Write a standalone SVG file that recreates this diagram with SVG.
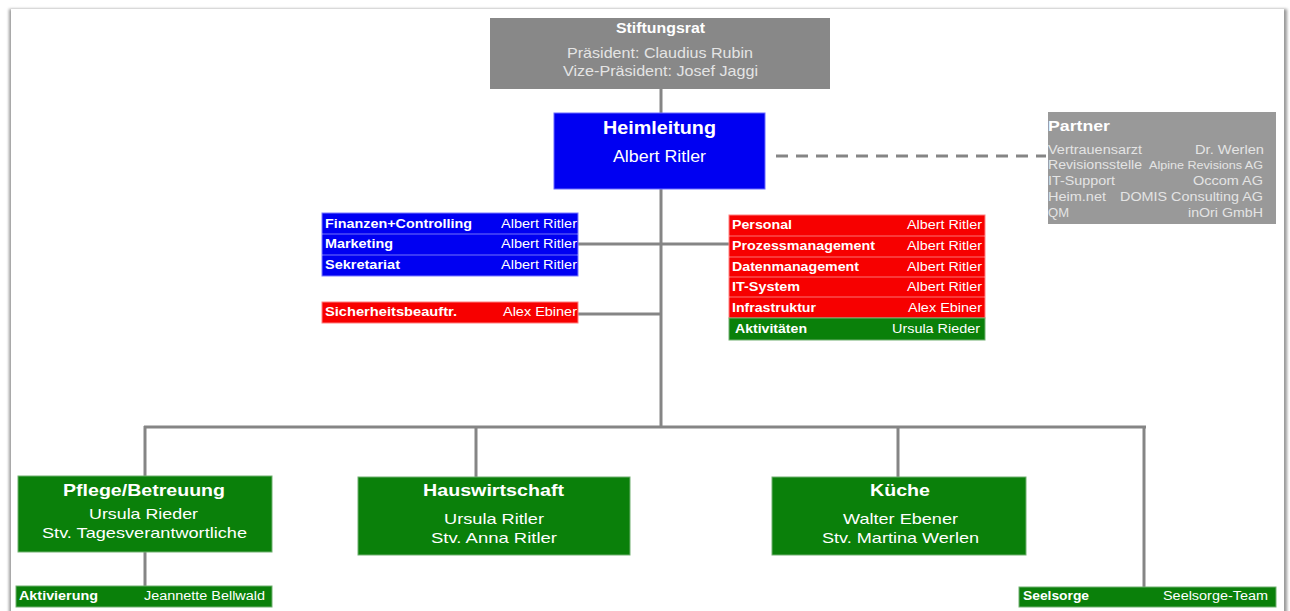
<svg xmlns="http://www.w3.org/2000/svg" width="1290" height="611" viewBox="0 0 1290 611">
<defs>
<filter id="sh" x="-5%" y="-5%" width="110%" height="110%">
<feGaussianBlur stdDeviation="1.5"/>
</filter>
<style>
text{font-family:"Liberation Sans",Arial,sans-serif;fill:#fff}
.b{font-weight:bold}
.t12{font-size:12.5px}
.p12{font-size:12px}
.big{font-size:18px;font-weight:bold}
.mid{font-size:15px}
.ttl{font-size:16.5px;font-weight:bold}
.blue{fill:#0000f2}
.red{fill:#f70000}
.green{fill:#0a800a}
.sep{stroke:#ffffff;stroke-opacity:0.45;stroke-width:1}
.con{stroke:#858585;stroke-width:3;fill:none}
.lt{fill:#e4e4e4}
</style>
</defs>
<rect width="1290" height="611" fill="#fff"/>
<rect x="9" y="9" width="1278" height="612" fill="#9a9a9a" filter="url(#sh)"/>
<rect x="11" y="9" width="1273" height="612" fill="#fff"/>

<g id="connectors">
<line class="con" x1="661" y1="89" x2="661" y2="114"/>
<line class="con" x1="661" y1="188" x2="661" y2="428"/>
<line class="con" x1="578" y1="244" x2="729" y2="244"/>
<line class="con" x1="578" y1="314" x2="661" y2="314"/>
<line class="con" x1="144" y1="427" x2="1146" y2="427"/>
<line class="con" x1="145" y1="426" x2="145" y2="476"/>
<line class="con" x1="476" y1="426" x2="476" y2="477"/>
<line class="con" x1="898" y1="426" x2="898" y2="477"/>
<line class="con" x1="1144" y1="426" x2="1144" y2="587"/>
<line class="con" x1="145" y1="552" x2="145" y2="586"/>
<line x1="776" y1="156" x2="1046" y2="156" stroke="#858585" stroke-width="3" stroke-dasharray="12,8"/>
</g>

<g id="stiftungsrat">
<rect x="490" y="18" width="340" height="71" fill="#888"/>
<text class="b" x="616" y="33" font-size="14" textLength="89" lengthAdjust="spacingAndGlyphs">Stiftungsrat</text>
<text class="lt" x="567" y="58" font-size="14.5" textLength="186" lengthAdjust="spacingAndGlyphs">Präsident: Claudius Rubin</text>
<text class="lt" x="563" y="76" font-size="14.5" textLength="195" lengthAdjust="spacingAndGlyphs">Vize-Präsident: Josef Jaggi</text>
</g>

<g id="heimleitung">
<rect x="554" y="113" width="211" height="76" class="blue" stroke="#6b6bff" stroke-width="1"/>
<text class="big" x="603" y="134" textLength="113" lengthAdjust="spacingAndGlyphs">Heimleitung</text>
<text x="613" y="162" font-size="16" textLength="93" lengthAdjust="spacingAndGlyphs">Albert Ritler</text>
</g>

<g id="partner">
<rect x="1048" y="112" width="228" height="112" fill="#999"/>
<text class="b" x="1048" y="131" font-size="15" textLength="62" lengthAdjust="spacingAndGlyphs">Partner</text>
<text class="lt p12" x="1048" y="154" textLength="94" lengthAdjust="spacingAndGlyphs">Vertrauensarzt</text>
<text class="lt p12" x="1195" y="154" textLength="69" lengthAdjust="spacingAndGlyphs">Dr. Werlen</text>
<text class="lt p12" x="1048" y="169" textLength="94" lengthAdjust="spacingAndGlyphs">Revisionsstelle</text>
<text class="lt" x="1149" y="169" font-size="11" textLength="114" lengthAdjust="spacingAndGlyphs">Alpine Revisions AG</text>
<text class="lt p12" x="1048" y="185" textLength="67" lengthAdjust="spacingAndGlyphs">IT-Support</text>
<text class="lt p12" x="1193" y="185" textLength="70" lengthAdjust="spacingAndGlyphs">Occom AG</text>
<text class="lt p12" x="1048" y="201" textLength="58" lengthAdjust="spacingAndGlyphs">Heim.net</text>
<text class="lt p12" x="1120" y="201" textLength="143" lengthAdjust="spacingAndGlyphs">DOMIS Consulting AG</text>
<text class="lt p12" x="1048" y="217" textLength="21" lengthAdjust="spacingAndGlyphs">QM</text>
<text class="lt p12" x="1188" y="217" textLength="75" lengthAdjust="spacingAndGlyphs">inOri GmbH</text>
</g>

<g id="stab-links">
<rect x="322" y="213" width="256" height="63" class="blue" stroke="#7a7aff" stroke-width="1"/>
<line class="sep" x1="322" y1="234" x2="578" y2="234"/>
<line class="sep" x1="322" y1="255" x2="578" y2="255"/>
<text class="b t12" x="325" y="228" textLength="147" lengthAdjust="spacingAndGlyphs">Finanzen+Controlling</text>
<text class="t12" x="501" y="228" textLength="76" lengthAdjust="spacingAndGlyphs">Albert Ritler</text>
<text class="b t12" x="325" y="248" textLength="68" lengthAdjust="spacingAndGlyphs">Marketing</text>
<text class="t12" x="501" y="248" textLength="76" lengthAdjust="spacingAndGlyphs">Albert Ritler</text>
<text class="b t12" x="325" y="269" textLength="75" lengthAdjust="spacingAndGlyphs">Sekretariat</text>
<text class="t12" x="501" y="269" textLength="76" lengthAdjust="spacingAndGlyphs">Albert Ritler</text>
</g>

<g id="sicherheit">
<rect x="322" y="302" width="256" height="21" class="red" stroke="#ff8080" stroke-width="1"/>
<text class="b t12" x="325" y="316" textLength="132" lengthAdjust="spacingAndGlyphs">Sicherheitsbeauftr.</text>
<text class="t12" x="503" y="316" textLength="74" lengthAdjust="spacingAndGlyphs">Alex Ebiner</text>
</g>

<g id="stab-rechts">
<rect x="729" y="215" width="256" height="103" class="red" stroke="#ff8080" stroke-width="1"/>
<line class="sep" x1="729" y1="236" x2="985" y2="236"/>
<line class="sep" x1="729" y1="257" x2="985" y2="257"/>
<line class="sep" x1="729" y1="277" x2="985" y2="277"/>
<line class="sep" x1="729" y1="297" x2="985" y2="297"/>
<text class="b t12" x="732" y="229" textLength="60" lengthAdjust="spacingAndGlyphs">Personal</text>
<text class="t12" x="907" y="229" textLength="75" lengthAdjust="spacingAndGlyphs">Albert Ritler</text>
<text class="b t12" x="732" y="250" textLength="143" lengthAdjust="spacingAndGlyphs">Prozessmanagement</text>
<text class="t12" x="907" y="250" textLength="75" lengthAdjust="spacingAndGlyphs">Albert Ritler</text>
<text class="b t12" x="732" y="271" textLength="127" lengthAdjust="spacingAndGlyphs">Datenmanagement</text>
<text class="t12" x="907" y="271" textLength="75" lengthAdjust="spacingAndGlyphs">Albert Ritler</text>
<text class="b t12" x="732" y="291" textLength="68" lengthAdjust="spacingAndGlyphs">IT-System</text>
<text class="t12" x="907" y="291" textLength="75" lengthAdjust="spacingAndGlyphs">Albert Ritler</text>
<text class="b t12" x="732" y="312" textLength="84" lengthAdjust="spacingAndGlyphs">Infrastruktur</text>
<text class="t12" x="908" y="312" textLength="74" lengthAdjust="spacingAndGlyphs">Alex Ebiner</text>
</g>

<g id="aktivitaeten">
<rect x="729" y="318" width="256" height="22" class="green" stroke="#70b070" stroke-width="1"/>
<text class="b t12" x="735" y="333" textLength="72" lengthAdjust="spacingAndGlyphs">Aktivitäten</text>
<text class="t12" x="892" y="333" textLength="88" lengthAdjust="spacingAndGlyphs">Ursula Rieder</text>
</g>

<g id="pflege">
<rect x="18" y="476" width="254" height="76" class="green" stroke="#70b070" stroke-width="1"/>
<text class="ttl" x="63" y="496" textLength="162" lengthAdjust="spacingAndGlyphs">Pflege/Betreuung</text>
<text class="mid" x="89" y="519" textLength="109" lengthAdjust="spacingAndGlyphs">Ursula Rieder</text>
<text class="mid" x="42" y="538" textLength="205" lengthAdjust="spacingAndGlyphs">Stv. Tagesverantwortliche</text>
</g>

<g id="hauswirtschaft">
<rect x="358" y="477" width="272" height="78" class="green" stroke="#70b070" stroke-width="1"/>
<text class="ttl" x="423" y="496" textLength="141" lengthAdjust="spacingAndGlyphs">Hauswirtschaft</text>
<text class="mid" x="444" y="524" textLength="100" lengthAdjust="spacingAndGlyphs">Ursula Ritler</text>
<text class="mid" x="431" y="543" textLength="126" lengthAdjust="spacingAndGlyphs">Stv. Anna Ritler</text>
</g>

<g id="kueche">
<rect x="772" y="477" width="254" height="78" class="green" stroke="#70b070" stroke-width="1"/>
<text class="ttl" x="870" y="496" textLength="60" lengthAdjust="spacingAndGlyphs">Küche</text>
<text class="mid" x="843" y="524" textLength="115" lengthAdjust="spacingAndGlyphs">Walter Ebener</text>
<text class="mid" x="822" y="543" textLength="157" lengthAdjust="spacingAndGlyphs">Stv. Martina Werlen</text>
</g>

<g id="aktivierung">
<rect x="16" y="586" width="256" height="21" class="green" stroke="#70b070" stroke-width="1"/>
<text class="b t12" x="19" y="600" textLength="79" lengthAdjust="spacingAndGlyphs">Aktivierung</text>
<text class="t12" x="144" y="600" textLength="121" lengthAdjust="spacingAndGlyphs">Jeannette Bellwald</text>
</g>

<g id="seelsorge">
<rect x="1019" y="587" width="257" height="20" class="green" stroke="#70b070" stroke-width="1"/>
<text class="b t12" x="1023" y="600" textLength="66" lengthAdjust="spacingAndGlyphs">Seelsorge</text>
<text class="t12" x="1163" y="600" textLength="105" lengthAdjust="spacingAndGlyphs">Seelsorge-Team</text>
</g>
</svg>
